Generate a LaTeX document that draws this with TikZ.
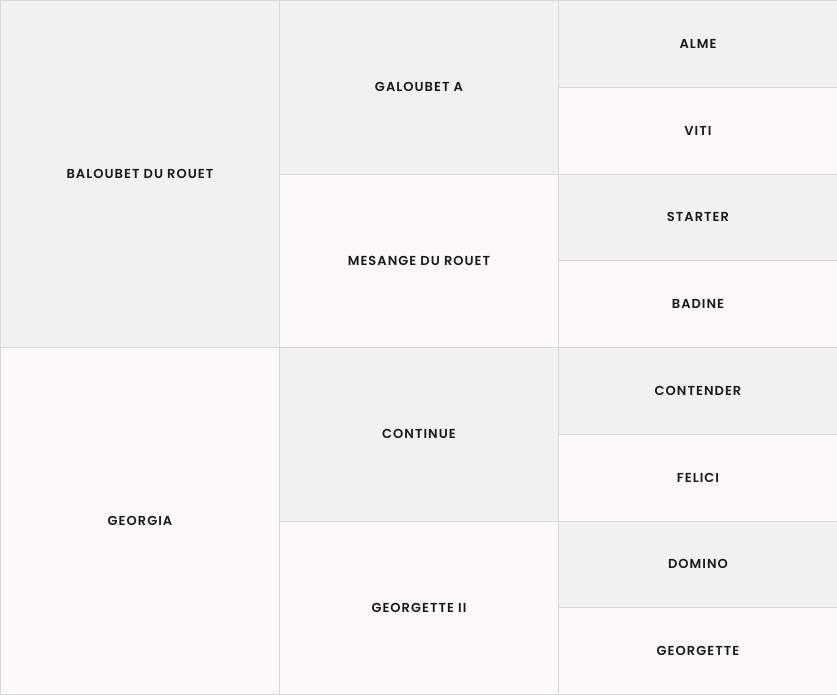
\documentclass[tikz,border=0pt]{standalone}
\usepackage{fontspec}
\setmainfont{Poppins}[BoldFont={Poppins SemiBold}, LetterSpace=8]
\usetikzlibrary{positioning}
\definecolor{cellgrey}{HTML}{F1F1F1}
\definecolor{cellpale}{HTML}{FBF9FA}
\definecolor{cellline}{HTML}{D9D9D9}
\definecolor{cellink}{HTML}{1A1A1A}

\begin{document}
\begin{tikzpicture}[
    x=1pt, y=-1pt,
    font=\bfseries\fontsize{13}{15}\selectfont,
    horse/.style={draw=cellline, line width=1pt, anchor=north west, inner sep=0pt,
        minimum width=279pt, text=cellink},
    sire/.style={horse, fill=cellgrey},
    dam/.style={horse, fill=cellpale}
]
    \useasboundingbox (0,0) rectangle (837,694);

    % Parents
    \node[sire, minimum height=347pt] (baloubet) at (0,0) {BALOUBET DU ROUET};
    \node[dam, minimum height=347pt] (georgia) at (0,347) {GEORGIA};

    % Grandparents
    \node[sire, minimum height=173.5pt] (galoubet) at (279,0) {GALOUBET A};
    \node[dam, minimum height=173.5pt] (mesange) at (279,173.5) {MESANGE DU ROUET};
    \node[sire, minimum height=173.5pt] (continue) at (279,347) {CONTINUE};
    \node[dam, minimum height=173.5pt] (georgette2) at (279,520.5) {GEORGETTE II};

    % Great-grandparents
    \foreach \name [count=\i from 0] in {ALME,VITI,STARTER,BADINE,CONTENDER,FELICI,DOMINO,GEORGETTE} {
        \ifodd\i
            \node[dam, minimum height=86.75pt] (gg\i) at (558,86.75*\i) {\name};
        \else
            \node[sire, minimum height=86.75pt] (gg\i) at (558,86.75*\i) {\name};
        \fi
    }
\end{tikzpicture}
\end{document}
